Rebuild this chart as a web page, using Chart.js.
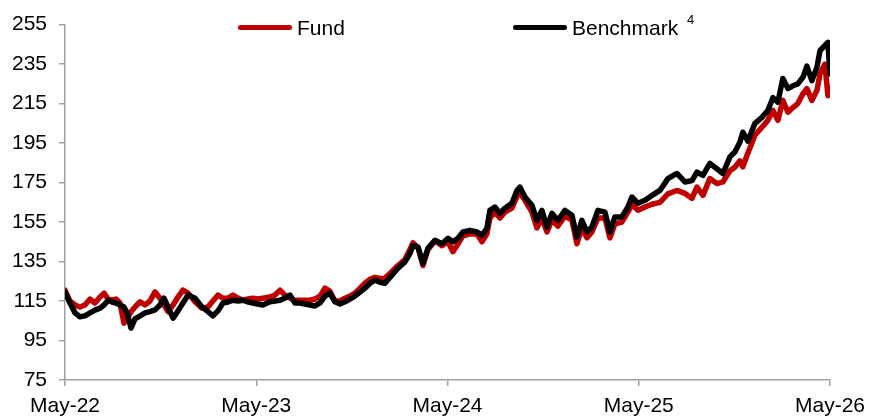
<!DOCTYPE html>
<html>
<head>
<meta charset="utf-8">
<script src="https://cdn.jsdelivr.net/npm/chart.js@4"></script>
<style>
  body { margin: 0; background: #fff; font-family: "Liberation Sans", Arial, sans-serif; }
  #wrap { position: relative; width: 869px; height: 417px; }
  .legend { position: absolute; top: 16px; height: 24px; font-size: 21px; color: #000; line-height: 24px; white-space: nowrap; }
  .legend .swatch { display: inline-block; width: 54px; height: 5px; border-radius: 3px; vertical-align: middle; margin-right: 5px; position: relative; top: -2px; }
  .legend .sup { position: absolute; font-size: 13px; line-height: 13px; right: -16px; top: -3px; }
</style>
</head>
<body>
<div id="wrap">
  <canvas id="perfChart"></canvas>
  <div class="legend" style="left:238px"><span class="swatch" style="background:#c00000"></span>Fund</div>
  <div class="legend" style="left:513px"><span class="swatch" style="background:#000"></span>Benchmark<span class="sup">4</span></div>
</div>
<script>
// months since May-22
const months = [
  0, 0.31, 0.63, 0.94, 1.25, 1.57, 1.88, 2.20, 2.45, 2.70, 2.95, 3.20, 3.45, 3.70, 3.89, 4.14,
  4.39, 4.71, 5.02, 5.33, 5.65, 5.96, 6.21, 6.46, 6.78, 7.09, 7.40, 7.72, 8.16, 8.59, 8.97, 9.28,
  9.60, 9.91, 10.23, 10.54, 10.85, 11.17, 11.48, 11.79, 12.11, 12.42, 12.86, 13.17, 13.49, 13.80, 14.12, 14.43,
  14.74, 15.06, 15.37, 15.68, 16.00, 16.31, 16.62, 16.94, 17.25, 17.57, 17.88, 18.19, 18.51, 18.82, 19.13, 19.45,
  19.76, 20.08, 20.39,
  20.89, 21.33, 21.64, 21.83, 22.15, 22.46, 22.77, 23.21, 23.65, 24.03,
  24.34, 24.66, 24.97, 25.41, 25.85, 26.16, 26.47, 26.66, 26.98, 27.29, 27.60, 28.04, 28.36, 28.54, 28.86, 29.30,
  29.61, 29.92, 30.24, 30.55, 30.93, 31.37, 31.81, 32.12, 32.43, 32.75, 33.06, 33.44, 33.88, 34.19, 34.50, 34.94,
  35.32, 35.57, 35.95, 36.39, 36.83, 37.33, 37.83, 38.39, 38.90, 39.34, 39.65, 40.03, 40.46, 40.90, 41.28, 41.72,
  42.03, 42.35, 42.53, 42.85, 43.29, 43.73, 44.10, 44.42, 44.73, 45.04, 45.36, 45.67, 45.98, 46.30, 46.55, 46.86,
  47.18, 47.37, 47.68, 47.87, 48
];

const fund = [
  120.5, 115, 113, 112, 113, 116, 114, 117, 119, 116, 115.4, 116, 114, 103.8, 106, 109.6,
  112, 114.6, 113, 115, 119.6, 116.4, 113, 109.6, 113, 117, 120.5, 119, 114.6, 111.4, 112, 115,
  118, 116.4, 116.5, 118, 116.5, 115.4, 116, 116.4, 116, 116.4, 117, 118, 120.5, 118, 116.4, 115.4,
  115.4, 115.4, 115.4, 116, 117.5, 121.5, 120, 115, 115, 116.4, 117.5, 119, 121.5, 124, 126, 127,
  126.4, 126.5, 129,
  133, 136, 141, 144.5, 142, 133, 141, 145.5, 143, 145,
  140, 144, 148, 149, 149, 145, 149, 157, 160, 157, 160, 162, 168, 170, 166, 160,
  152, 157, 150, 156, 153, 158, 156, 144, 152, 147, 150, 157, 157, 147, 154, 155,
  160, 164, 161, 162.6, 164, 165, 169.3, 171, 169.5, 167, 172.7, 168.5, 177, 174.5, 175.3, 181,
  182.8, 186, 183, 190, 199, 203, 206.5, 211.5, 206.5, 216.6, 210.6, 213, 215, 220, 222.6, 216.6,
  221.6, 230, 235, 219, 223
];

const benchmark = [
  119.5, 114, 109, 107, 107.5, 109, 110.4, 111.4, 113, 115.4, 114.5, 114, 113, 112, 109, 101.3,
  106, 107.5, 109, 109.6, 110.5, 113, 116.4, 112, 106.3, 110, 114, 118, 116.4, 112, 109.6, 107.5,
  110, 114, 114.5, 115.4, 115, 115.4, 114.5, 114, 113.5, 113, 114.6, 115, 115.4, 116.5, 118, 114,
  114, 113.5, 113, 112.5, 114, 117.5, 119, 114.6, 113.5, 114.6, 116, 117.5, 119.5, 121.5, 124, 125.6,
  124.5, 124, 127,
  131.6, 134.8, 139, 143, 142.4, 134, 141.7, 145.8, 144, 146.8,
  145, 146.8, 150, 150.8, 150, 148.3, 151.8, 160.9, 162.6, 159.4, 162, 164.5, 171, 172.7, 167.7, 163.5,
  155.9, 160.9, 152.5, 159.4, 155.9, 160.9, 158.4, 147.4, 155.9, 150, 152.5, 160.9, 160, 150, 157.6, 157.6,
  162.6, 167.7, 164.5, 166, 168.5, 171, 177, 179.6, 175.3, 176, 180.3, 178.6, 184.7, 182, 179.6, 188,
  190.5, 195.5, 200.5, 196, 205, 208, 211.5, 218, 215.7, 227.7, 222.6, 224, 225, 228.3, 234, 226.6,
  233.4, 241.8, 244.4, 246, 230
];

const tickLabels = ['May-22', 'May-23', 'May-24', 'May-25', 'May-26'];
const yMin = 75, yMax = 255, yStep = 20;

const axisGrey = '#a0a0a0';

function toPoints(values) {
    return values.map((v, i) => ({ x: months[i], y: v }));
}

function initChart() {
    const ctx = document.getElementById('perfChart').getContext('2d');

    const data = {
        datasets: [
            {
                label: 'Fund',
                data: toPoints(fund),
                borderColor: '#c00000',
                borderWidth: 5.5,
                order: 2
            },
            {
                label: 'Benchmark',
                data: toPoints(benchmark),
                borderColor: '#000000',
                borderWidth: 5.5,
                order: 1
            }
        ]
    };

    const config = {
        type: 'line',
        data: data,
        options: {
            responsive: true,
            maintainAspectRatio: false,
            animation: false,
            elements: {
                point: { radius: 0 },
                line: { tension: 0, borderCapStyle: 'round', borderJoinStyle: 'round' }
            },
            layout: { padding: { top: 14, right: 39, left: 0, bottom: 0 } },
            plugins: { legend: { display: false }, tooltip: { enabled: false } },
            scales: {
                x: {
                    type: 'linear',
                    min: 0,
                    max: 48,
                    afterBuildTicks: scale => {
                        scale.ticks = tickLabels.map((_, i) => ({ value: i * 12 }));
                    },
                    ticks: {
                        color: '#000',
                        font: { family: 'Liberation Sans', size: 21 },
                        maxRotation: 0,
                        autoSkip: false,
                        padding: 8,
                        callback: v => tickLabels[v / 12]
                    },
                    grid: { drawOnChartArea: false, color: axisGrey, tickLength: 6, lineWidth: 1.5 },
                    border: { color: axisGrey, width: 1.5 },
                    afterFit: scale => {
                        scale.height = 37;
                        scale.paddingLeft = 0;
                        scale.paddingRight = 0;
                    }
                },
                y: {
                    min: yMin,
                    max: yMax,
                    ticks: {
                        stepSize: yStep,
                        color: '#000',
                        font: { family: 'Liberation Sans', size: 21 },
                        padding: 12
                    },
                    grid: { drawOnChartArea: false, color: axisGrey, tickLength: 6, lineWidth: 1.5 },
                    border: { color: axisGrey, width: 1.5 },
                    afterFit: scale => { scale.width = 65; }
                }
            }
        }
    };

    new Chart(ctx, config);
}

document.addEventListener('DOMContentLoaded', () => {
    initChart();
});
</script>
</body>
</html>
